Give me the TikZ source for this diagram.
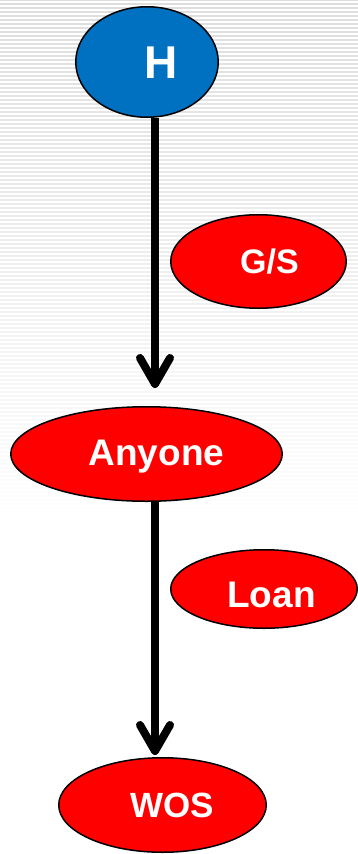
\documentclass[tikz,border=0pt]{standalone}
\usepackage{fontspec}
\setmainfont{Liberation Sans}
\usetikzlibrary{shapes.geometric,arrows.meta}
\definecolor{hblue}{RGB}{0,112,192}
\definecolor{nred}{RGB}{255,0,0}
\begin{document}
\begin{tikzpicture}[x=1pt,y=-1pt,
  ell/.style={ellipse, draw=black, line width=1.5pt, text=white, inner sep=0pt, text depth=0pt},
  conn/.style={line width=8pt, -{Straight Barb[length=26pt, width=30pt, line cap=round, line join=round]}}]
\useasboundingbox (0,0) rectangle (358,854);
\fill[white] (0,0) rectangle (358,854);
\foreach \y in {0,4,...,520}{
  \pgfmathsetmacro\c{13*(1-\y/520)}
  \draw[black!\c, line width=2pt] (0,\y) -- (358,\y);
}
\node[ell, fill=hblue, minimum width=142.5pt, minimum height=110.5pt, text height=33pt,
  font=\fontsize{46}{50}\bfseries\selectfont] (H) at (147,62) {\hspace*{28pt}H};
\node[ell, fill=nred, minimum width=175.5pt, minimum height=93.5pt, text height=23pt,
  font=\fontsize{34}{38}\bfseries\selectfont] (GS) at (258.5,261.5) {\hspace*{22pt}G/S};
\node[ell, fill=nred, minimum width=271.5pt, minimum height=94.5pt, text height=23.5pt,
  font=\fontsize{37}{40}\bfseries\selectfont] (Anyone) at (146.5,454) {\hspace*{20pt}Anyone};
\node[ell, fill=nred, minimum width=186.5pt, minimum height=78.5pt, text height=37pt,
  font=\fontsize{37}{40}\bfseries\selectfont] (Loan) at (264,589) {\hspace*{15pt}Loan};
\node[ell, fill=nred, minimum width=207.5pt, minimum height=94.5pt, text height=25pt,
  font=\fontsize{35}{38}\bfseries\selectfont] (WOS) at (162.5,805) {\hspace*{20pt}WOS};
\draw[conn, shorten >=18pt] ([xshift=8pt]H.south) -- ([xshift=8.5pt]Anyone.north);
\draw[conn, shorten >=2pt] ([xshift=8.5pt]Anyone.south) -- ([xshift=-7.5pt]WOS.north);
\end{tikzpicture}
\end{document}
